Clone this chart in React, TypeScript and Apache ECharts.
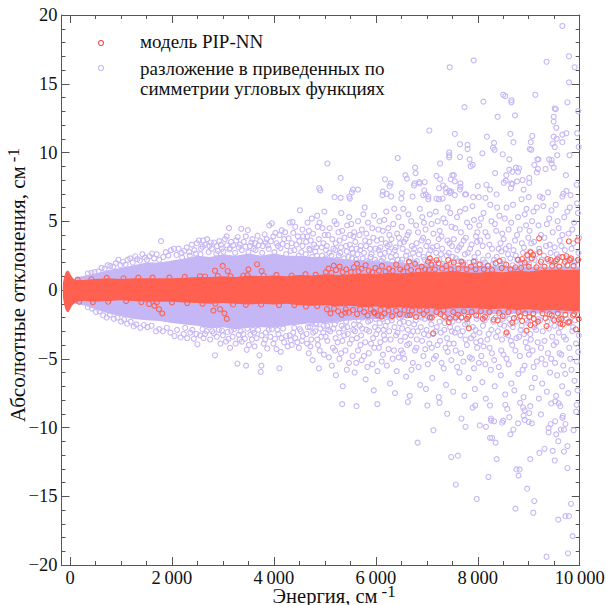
import React, { useEffect, useRef } from "react";
import * as echarts from "echarts";

const SERIES_A = "модель PIP-NN";
const SERIES_B = "разложение в приведенных по\nсимметрии угловых функциях";
const X_TITLE = "Энергия, см{sup|-1}";
const Y_TITLE = "Абсолютные отклонения, см{sup|-1}";
const xMajor = [0, 2000, 4000, 6000, 8000, 10000];
const xMinor = [500, 1000, 1500, 2500, 3000, 3500, 4500, 5000, 5500, 6500, 7000, 7500, 8500, 9000, 9500];

// dense, saturated core of each cloud: envelope
const redCoreE = [-140,-120,-90,-60,-30,0,30,60,100,140,250,500,750,1000,1250,1500,1750,2000,2250,2500,2750,3000,3250,3500,3750,4000,4250,4500,4750,5000,5250,5500,5750,6000,6250,6500,6750,7000,7250,7500,7750,8000,8250,8500,8750,9000,9250,9500,9750,10000];
const redCoreUp = [0.5,0.9,1.25,1.4,1.4,1.2,1.0,0.85,0.75,0.72,0.72,0.8,0.85,0.8,0.85,0.85,0.85,0.85,0.9,0.95,0.95,1.0,0.95,1.05,1.0,1.05,1.0,1.1,1.05,1.15,1.1,1.15,1.2,1.15,1.25,1.2,1.3,1.35,1.3,1.4,1.3,1.25,1.35,1.3,1.4,1.35,1.45,1.5,1.45,1.5];
const redCoreDn = [-0.5,-1.0,-1.4,-1.6,-1.6,-1.4,-1.2,-1.05,-0.95,-0.85,-0.8,-0.85,-0.8,-0.75,-0.8,-0.85,-0.85,-0.85,-0.9,-0.95,-1.0,-0.95,-1.0,-1.05,-1.0,-1.05,-1.0,-1.1,-1.15,-1.1,-1.2,-1.15,-1.25,-1.2,-1.3,-1.25,-1.35,-1.3,-1.4,-1.35,-1.3,-1.35,-1.4,-1.35,-1.45,-1.4,-1.5,-1.45,-1.5,-1.55];
const lilacCoreE = [100,300,500,750,1000,1250,1500,1750,2000,2250,2500,2750,3000,3250,3500,3750,4000,4250,4500,4750,5000,5500,6000,6500,7000,7500,8000,9000,10000];
const lilacCoreUp = [0.9,1.05,1.2,1.45,1.6,1.8,2.0,2.0,2.15,2.3,2.5,2.4,2.6,2.5,2.65,2.5,2.65,2.5,2.5,2.4,2.4,2.2,2.1,2.0,1.85,1.8,1.75,1.7,1.7];
const lilacCoreDn = [-1,-1.15,-1.4,-1.7,-1.9,-2.1,-2.2,-2.25,-2.4,-2.5,-2.6,-2.8,-2.7,-2.85,-2.75,-2.7,-2.75,-2.6,-2.5,-2.4,-2.4,-2.2,-2.1,-2.0,-1.85,-1.8,-1.75,-1.7,-1.7];

// individual rings, as energy, deviation, energy, deviation ...
const lilacTop = [9660,19.2,9790,17.0,9900,16.2,9350,16.6,7920,16.7,7450,16.2,9790,15.1,8500,14.2,8540,14.1,8660,13.8,8660,13.65,9130,14.2,8110,13.7,7740,13.3,9760,13.65,9510,13.2,9530,13.15,9970,13.0,8730,12.7,8390,12.6,9490,12.6,9490,12.25,9540,11.8,7050,11.6,7550,11.35,8640,11.35,9070,11.2,9740,11.4,9660,11.3,8180,11.15,9490,11.15,9550,11.0,9660,10.75,9950,11.4,9980,10.4,8320,10.7,8300,10.35,8330,10.2,8700,10.75,9040,10.75,9020,10.25,9050,10.2,9470,10.65,9510,10.4,7650,10.6,7800,10.55,7800,10.25,7440,10.0,7440,9.8,7440,9.65,7650,9.67,8090,9.94,8490,9.87,6430,9.6,7840,9.5,8620,9.5,9560,9.8,9800,9.8,9400,9.5,9450,9.45,9170,9.5,9190,9.5,7260,9.2,5050,9.2,7900,9.1,7860,9.0,9110,9.1,9450,9.2,9490,8.9,9330,8.8,9180,8.8,9160,8.55,6770,8.9,8620,8.75,8680,8.6,8750,8.9,8810,8.85,8790,8.6,8340,8.5,6780,8.5,6580,8.35,6610,8.1,9730,8.35,5310,8.15,7190,8.3,7260,8.05,7500,8.35,7530,8.35,7470,8.05,7550,7.9,6180,8.05,6290,7.75,6270,7.55,6850,7.85,6860,7.75,6760,7.75,6750,7.6,6960,7.85,8560,8.35,8550,7.95,8510,7.8,8880,8.0,8770,7.9,9010,8.15,9010,7.8,7660,7.75,7660,7.5,7650,7.3,8170,7.65,8000,7.55,8240,7.3,8660,7.75,8680,7.7,8650,7.4,9940,7.65,8900,7.3,4890,7.4,4910,7.25,5550,7.3,5650,7.3,5530,7.1,7320,7.6,7240,7.4,7370,7.4,7440,7.2,7480,7.15,7380,7.1,7460,7.05,6950,7.25,6140,7.15,6130,6.9,6210,7.0,6300,6.8,6510,7.05,6720,6.8,6930,6.9,6980,6.95,7030,6.8,7750,6.95,7770,6.95,7550,6.9,7910,6.75,8020,6.75,8150,6.7,8370,6.95,9380,7.1,9220,6.8,9270,6.7,9680,7.0,9740,7.2,9660,6.8,9820,6.9,5190,6.75,5310,6.7,5480,6.8,5490,6.65,7190,6.65,7240,6.6,7310,6.65,7030,6.6,9000,6.75,8860,6.6,6500,6.65];
const lilacBottom = [5340,-8.3,5620,-8.45,6030,-8.3,6630,-8.15,7010,-8.4,7250,-8.2,7400,-9.0,7680,-9.35,7760,-9.95,7130,-10.2,6820,-11.1,7480,-12.15,7610,-12.05,7570,-14.15,8210,-13.6,7980,-15.2,8370,-12.3,8350,-11.1,8240,-10.75,8280,-10.75,8040,-9.85,8160,-9.95,7900,-8.55,7950,-8.4,8240,-8.4,8260,-9.35,8260,-9.5,8320,-9.55,8500,-9.5,8480,-9.65,8620,-9.25,8540,-8.35,8580,-8.65,8790,-9.7,8640,-10.5,8700,-10.15,8920,-9.45,8900,-9.15,8890,-8.55,8920,-8.75,8830,-8.2,9010,-8.95,9000,-9.6,9060,-9.7,9240,-9.05,9030,-8.45,8760,-13.05,8820,-13.05,8800,-13.5,9030,-12.3,8970,-14.45,9110,-15.35,8740,-15.9,9090,-16.2,9210,-11.85,9310,-11.55,9470,-11.7,9510,-12.4,9690,-11.75,9760,-11.35,9580,-11.0,9540,-10.5,9390,-10.05,9390,-10.35,9430,-9.75,9520,-9.55,9720,-9.75,9630,-10.15,9690,-10.15,9880,-10.2,9670,-9.15,9660,-9.3,9760,-12.95,9830,-15.55,9720,-16.45,9790,-16.45,9580,-16.7,9860,-17.9,9350,-19.4,9770,-19.15,9940,-8.35,9930,-8.85,9440,-8.25,9590,-8.25,9620,-8.45,9520,-8.1];
const lilacLeftUp = [350,1.2,420,1.25,480,1.3,560,1.35,620,1.6,680,1.55,740,1.8,790,1.75,850,1.7,900,1.95,950,2.2,990,1.8,1040,2.05,1090,1.85,1130,2.2,1180,2.3,1230,2.0,1280,2.45,1320,2.25,1370,2.15,1420,2.6,1470,2.35,1510,2.2,1560,2.45,1610,2.65,1650,2.3,1700,2.6,1750,2.2,1786,3.55,1830,2.4,1880,2.75,1930,2.5,1980,2.9,2040,3.0,2090,2.55,2130,3.0,2190,2.7,2240,2.85,2290,3.1,2340,2.75,2390,3.3,2440,2.9,2490,3.4,2530,3.6,2570,3.0,2610,3.6,2650,3.3,2690,3.7,2730,3.2,2780,3.0,2830,3.45,2880,3.2,2930,3.55,2980,3.0,3040,3.7,3075,3.9,3120,4.5,3160,3.5,3200,3.25,3260,3.6,3310,3.1,3360,4.45,3410,3.5,3450,3.9,3490,4.35,3530,3.2,3580,3.7,3630,3.4,3680,3.95,3730,3.55,3780,3.2,3820,4.05,3860,3.7,3910,4.7,3960,4.85,3990,3.9,4050,3.4,4110,4.0,4154,4.35,4200,3.7,4260,3.2,4310,4.9,4364,4.95,4420,4.6,4470,3.9,4510,5.8,4560,4.4,2560,2.6,2720,2.75,2870,2.65,3010,2.8,3130,2.95,3240,2.7,3370,2.9,3500,2.75,3640,2.9,3770,2.7,3900,3.0,4010,2.75,4130,3.05,4240,2.6,4350,3.4,4400,2.9,4490,2.5,4560,3.2,
3080,3.25,3140,3.05,3290,3.85,3330,3.3,3440,3.15,3560,3.45,3600,3.0,3700,3.25,3840,3.45,3880,3.25,3940,3.55,4030,4.15,4080,3.2,4170,3.35,4220,4.2,4290,3.75,4330,2.85,4380,4.15,4440,3.3,4500,3.55,4540,2.75,4570,3.9,2200,2.35,2350,2.5,2470,2.65,2600,3.15,2760,3.45,2900,2.85,2960,3.3];
const lilacLeftDn = [350,-1.25,430,-1.35,510,-1.6,580,-1.55,650,-1.85,720,-2.0,780,-1.8,860,-2.1,930,-2.0,1000,-2.3,1060,-2.15,1120,-2.45,1190,-2.3,1250,-2.65,1300,-2.5,1380,-2.75,1450,-2.55,1520,-2.7,1600,-2.6,1688,-3.0,1750,-2.85,1820,-3.0,1900,-2.75,1970,-3.1,2050,-3.35,2100,-2.9,2170,-3.45,2230,-3.2,2300,-3.5,2360,-3.1,2430,-3.55,2499,-3.95,2550,-3.3,2620,-3.5,2680,-3.0,2750,-3.6,2845,-4.75,2880,-3.4,2950,-3.9,3000,-3.3,3060,-3.75,3140,-4.2,3190,-3.4,3250,-3.9,3284,-5.35,3330,-3.6,3400,-3.2,3454,-5.5,3467,-4.35,3510,-4.0,3570,-3.6,3620,-4.1,3716,-4.75,3742,-5.95,3755,-5.5,3800,-3.9,3870,-4.25,3930,-3.4,3990,-3.9,4050,-4.3,4108,-5.7,4134,-4.5,4200,-3.8,4270,-4.1,4350,-4.0,4420,-3.5,4490,-4.2,4550,-3.7,2600,-2.85,2790,-3.0,2920,-2.9,3090,-3.05,3220,-2.85,3350,-3.0,3480,-2.8,3610,-3.1,3690,-2.9,3840,-3.1,3960,-2.85,4090,-3.2,4180,-2.8,4310,-3.3,4400,-2.75,4530,-3.0,
3110,-3.55,3160,-2.95,3310,-3.25,3370,-3.75,3430,-3.55,3540,-3.25,3590,-2.9,3660,-3.5,3760,-3.3,3830,-3.6,3900,-2.9,4020,-3.55,4070,-2.9,4150,-3.5,4240,-3.35,4330,-3.65,4380,-3.1,4460,-3.8,4510,-2.85,4570,-3.35,2260,-2.75,2400,-2.9,2480,-3.2,2650,-3.2,2820,-3.15,2980,-2.95];
const lilacMidUp = [
4610,1.7,4625,2.6,4632,3.5,4670,2.1,4688,4.3,4695,3.0,4730,1.9,4745,5.2,4752,2.4,4790,3.3,4805,1.6,4812,2.8,4860,4.6,4875,2.2,4882,3.7,4905,1.8,4938,3.1,4945,2.5,4990,5.7,4998,4.0,4615,2.0,4655,3.9,4710,2.9,4722,3.6,4775,2.0,4830,3.1,4845,2.5,4895,4.9,4925,2.1,4965,1.7,4972,3.4,4660,4.9,4768,4.1,4850,5.4,4955,4.5,
5012,2.3,5030,1.8,5038,3.2,5085,2.7,5092,4.5,5110,1.6,5145,3.7,5153,2.1,5190,5.0,5205,2.9,5212,3.4,5255,1.9,5266,4.2,5272,2.5,5315,3.1,5322,5.6,5350,1.7,5378,2.3,5386,3.8,5430,2.8,5438,4.7,5446,1.9,5490,3.3,5020,2.9,5062,4.0,5075,2.0,5128,2.5,5170,3.0,5184,1.8,5228,4.8,5240,2.2,5290,3.6,5305,2.7,5340,4.3,5402,2.0,5415,3.2,5462,2.4,5478,5.3,5498,4.0,
5510,1.8,5528,3.0,5535,2.3,5575,4.2,5590,1.7,5598,3.5,5640,2.6,5652,5.0,5660,2.0,5705,3.2,5716,1.8,5725,4.4,5768,2.7,5782,6.0,5790,3.6,5825,2.1,5838,1.7,5846,4.9,5890,3.0,5898,2.4,5950,3.8,5958,1.8,5966,5.4,5518,4.8,5550,2.7,5562,3.9,5612,2.2,5625,3.0,5680,4.0,5692,2.9,5744,2.3,5755,5.5,5808,3.2,5814,4.1,5866,2.0,5875,3.5,5915,2.6,5930,4.5,5982,2.2,5994,3.0,
6015,2.0,6022,3.6,6035,1.7,6072,5.0,6086,2.6,6092,3.1,6125,1.8,6138,4.3,6146,2.3,6196,3.4,6204,5.7,6215,1.9,6258,2.8,6266,4.0,6272,3.3,6322,2.1,6334,1.7,6342,4.8,6390,3.1,6396,2.5,6445,5.3,6452,3.8,6464,1.8,6050,4.4,6056,2.9,6108,3.7,6112,2.1,6165,5.1,6178,2.7,6230,3.2,6245,4.5,6295,2.4,6308,3.7,6362,5.9,6374,2.9,6418,4.1,6430,2.2,6478,3.4,6490,2.0,
6508,4.6,6518,2.2,6525,3.0,6570,1.7,6584,3.7,6592,2.5,6640,5.5,6648,4.2,6656,2.0,6708,3.2,6716,1.8,6730,2.7,6790,4.7,6798,3.4,6806,2.1,6862,5.9,6870,2.9,6884,1.7,6928,3.8,6936,2.4,6944,4.9,6990,3.2,6998,1.9,6540,5.9,6552,3.5,6610,2.8,6622,4.0,6680,2.3,6694,5.0,6750,3.0,6762,2.0,6828,4.2,6844,2.6,6900,3.6,6912,5.3,6960,2.2,6975,4.4,
7014,1.8,7028,3.5,7036,2.6,7094,4.8,7106,2.1,7112,3.1,7168,1.7,7176,5.7,7184,2.7,7232,3.7,7246,2.2,7254,4.3,7302,3.0,7314,1.9,7326,5.2,7390,2.5,7404,3.6,7412,6.0,7474,2.0,7486,4.6,7494,3.2,7060,5.5,7072,2.9,7130,4.1,7144,2.0,7200,3.2,7214,5.0,7276,2.6,7288,3.9,7350,1.8,7366,4.9,7430,2.7,7446,3.4,7462,5.6,
7506,2.4,7522,1.8,7530,3.7,7592,5.3,7600,2.9,7610,2.1,7668,4.2,7676,3.3,7684,1.7,7748,2.6,7758,5.9,7766,3.8,7832,2.0,7842,4.6,7850,3.0,7918,1.8,7926,5.1,7936,2.4,7985,3.5,7994,4.2,7560,4.5,7572,2.3,7636,3.1,7650,5.7,7712,2.0,7724,3.6,7790,4.9,7804,2.7,7880,3.3,7896,6.1,7950,2.1,7966,3.9,
8006,2.7,8018,1.9,8030,4.7,8096,3.2,8104,2.2,8114,5.6,8186,1.8,8196,3.9,8204,2.5,8270,5.0,8280,3.0,8292,1.9,8362,4.3,8372,2.4,8380,6.0,8446,3.4,8456,1.8,8464,2.8,8050,3.6,8064,5.2,8140,2.0,8150,4.2,8230,3.3,8246,6.2,8320,2.2,8336,4.8,8410,3.0,8424,5.4,8480,4.1,8494,2.2,
8508,3.7,8516,1.9,8530,5.2,8592,2.6,8604,4.4,8612,3.2,8684,1.8,8692,6.2,8700,2.9,8770,4.0,8778,2.2,8790,5.3,8866,3.4,8876,1.9,8884,2.7,8948,4.7,8956,5.9,8966,2.1,8550,3.0,8566,6.0,8640,2.3,8656,4.9,8730,3.6,8746,2.5,8824,4.4,8838,2.0,8905,3.1,8922,5.5,8980,2.5,8992,3.8,
9006,1.9,9016,4.3,9028,2.8,9094,5.7,9104,3.5,9116,2.2,9182,1.8,9192,4.7,9204,3.0,9286,6.1,9296,2.5,9308,3.8,9390,2.1,9402,5.2,9412,3.3,9470,4.2,9484,2.0,9050,3.4,9066,5.0,9146,2.6,9160,6.0,9240,4.0,9256,2.2,9340,3.2,9356,4.8,9428,2.7,9446,5.8,
9508,3.1,9518,1.9,9530,6.2,9588,4.5,9598,2.4,9610,3.6,9686,1.9,9696,5.3,9708,2.9,9782,4.1,9794,2.2,9806,6.0,9878,3.4,9890,4.9,9900,2.0,9966,5.6,9976,2.7,9986,3.8,9550,2.6,9566,5.0,9642,3.2,9660,4.0,9742,2.3,9758,5.7,9840,3.0,9856,4.4,9930,2.1,9948,6.3];
const lilacMidDn = [
4605,-2.2,4620,-1.7,4640,-3.2,4668,-2.7,4684,-4.6,4692,-1.9,4735,-3.6,4742,-2.3,4758,-5.1,4796,-1.8,4810,-3.0,4818,-2.5,4866,-4.0,4878,-1.7,4884,-5.7,4912,-2.8,4930,-3.4,4942,-2.1,4982,-4.7,4994,-1.8,4650,-3.9,4708,-2.7,4716,-4.1,4770,-3.1,4782,-1.9,4836,-2.4,4852,-3.6,4900,-4.4,4920,-2.0,4968,-3.1,4976,-2.6,
5015,-3.4,5028,-1.8,5044,-2.6,5080,-4.9,5096,-2.0,5105,-3.0,5150,-1.7,5158,-4.2,5168,-2.8,5210,-3.5,5218,-6.2,5234,-2.2,5262,-1.8,5278,-3.1,5286,-5.0,5330,-2.6,5344,-3.7,5352,-7.0,5392,-1.8,5404,-4.4,5418,-2.3,5450,-3.2,5466,-1.9,5474,-5.3,5050,-3.7,5068,-2.9,5120,-2.2,5136,-5.5,5194,-2.5,5200,-4.4,5250,-3.8,5300,-2.1,5318,-4.6,5370,-2.8,5382,-3.3,5432,-5.8,5440,-2.7,5488,-3.9,
5508,-2.0,5516,-1.7,5530,-3.6,5570,-2.5,5584,-6.0,5592,-3.0,5640,-1.8,5650,-4.4,5664,-2.2,5712,-3.3,5722,-5.1,5730,-2.8,5780,-1.8,5792,-3.8,5800,-6.5,5850,-2.3,5862,-4.6,5870,-3.0,5925,-1.9,5934,-5.4,5946,-3.5,5960,-7.3,5985,-2.7,5545,-4.8,5556,-2.9,5615,-5.3,5628,-3.5,5685,-2.6,5698,-4.0,5748,-2.0,5766,-4.8,5820,-2.9,5835,-5.6,5890,-2.2,5905,-3.9,5972,-4.2,5996,-2.1,
6010,-3.2,6018,-1.8,6032,-5.9,6075,-2.4,6088,-3.8,6096,-1.9,6140,-4.7,6150,-2.9,6158,-3.3,6205,-1.8,6218,-5.5,6228,-2.3,6280,-6.8,6290,-3.6,6298,-2.0,6355,-4.4,6366,-2.7,6376,-7.5,6425,-3.1,6436,-1.8,6448,-4.9,6470,-2.4,6486,-3.7,6045,-2.9,6060,-4.2,6115,-5.2,6128,-2.1,6180,-3.6,6192,-2.6,6250,-4.3,6262,-3.0,6315,-2.2,6330,-5.0,6395,-3.3,6410,-5.9,6460,-2.0,6495,-4.4,
6505,-1.9,6516,-2.8,6528,-4.6,6575,-3.4,6586,-1.8,6594,-6.3,6645,-2.4,6654,-3.9,6664,-7.7,6715,-1.8,6726,-5.3,6734,-3.0,6785,-2.2,6796,-4.2,6804,-3.6,6858,-1.9,6870,-6.9,6880,-2.7,6935,-4.8,6946,-3.2,6955,-2.1,6984,-7.2,6545,-2.3,6558,-5.0,6615,-4.0,6628,-2.9,6688,-3.3,6700,-5.8,6752,-2.5,6768,-4.4,6822,-3.0,6838,-5.6,6895,-2.0,6908,-3.7,6970,-4.3,6996,-2.9,
7008,-1.9,7020,-5.4,7032,-3.3,7088,-2.5,7098,-4.2,7106,-6.4,7160,-1.8,7172,-3.0,7180,-4.8,7236,-7.8,7250,-2.3,7260,-3.7,7320,-1.9,7332,-5.7,7344,-2.9,7378,-6.9,7398,-3.5,7410,-4.5,7470,-2.1,7482,-5.1,7492,-3.0,7050,-3.9,7066,-2.1,7124,-3.2,7140,-5.0,7196,-2.7,7210,-4.0,7275,-3.1,7290,-5.3,7352,-2.4,7366,-4.2,7425,-2.0,7440,-3.9,7458,-2.7,
7504,-2.3,7518,-7.4,7528,-3.9,7585,-1.9,7596,-5.6,7606,-2.8,7660,-3.3,7672,-4.6,7682,-2.0,7738,-7.7,7750,-2.5,7760,-3.6,7820,-6.4,7830,-1.9,7844,-4.9,7905,-2.7,7918,-3.3,7926,-5.7,7942,-7.2,7976,-2.1,7990,-4.2,7550,-3.1,7566,-4.4,7625,-2.2,7640,-6.0,7705,-3.0,7718,-5.2,7785,-4.0,7798,-2.4,7868,-3.5,7884,-5.0,7955,-2.9,7968,-3.8,
8010,-1.9,8022,-5.3,8034,-3.1,8090,-6.7,8102,-2.6,8112,-4.1,8158,-7.9,8176,-2.0,8188,-3.6,8256,-5.8,8268,-2.9,8278,-4.6,8334,-7.0,8350,-2.0,8362,-3.4,8440,-2.5,8452,-6.2,8462,-4.4,8056,-3.7,8070,-4.8,8135,-2.2,8148,-5.4,8215,-3.2,8232,-4.2,8304,-2.3,8320,-5.1,8395,-3.0,8412,-5.6,8476,-3.6,8490,-2.1,
8504,-4.7,8518,-2.6,8528,-1.9,8538,-7.6,8596,-3.3,8606,-5.4,8618,-2.1,8658,-6.8,8676,-4.0,8686,-2.7,8718,-7.3,8758,-3.5,8770,-2.0,8796,-6.1,8826,-4.8,8838,-2.9,8898,-7.8,8910,-3.2,8920,-5.5,8962,-2.2,8974,-4.2,8550,-3.2,8566,-5.0,8636,-2.5,8648,-3.7,8738,-4.4,8746,-2.3,8810,-3.4,8860,-2.6,8880,-5.8,8940,-3.8,8990,-2.4,
9004,-4.7,9016,-2.0,9028,-3.2,9058,-7.1,9096,-5.6,9110,-2.7,9120,-6.4,9176,-3.8,9190,-2.1,9198,-7.9,9254,-5.0,9264,-6.8,9276,-3.0,9356,-7.4,9368,-2.3,9378,-4.6,9418,-6.0,9460,-3.4,9474,-2.1,9040,-3.6,9076,-4.4,9145,-2.9,9160,-5.2,9226,-2.2,9240,-4.2,9310,-3.7,9326,-5.4,9396,-2.8,9440,-5.0,9490,-4.0,
9506,-2.6,9516,-5.3,9538,-7.7,9558,-6.2,9590,-3.1,9604,-4.6,9612,-2.0,9656,-7.0,9676,-5.5,9688,-3.4,9716,-6.1,9774,-7.5,9786,-2.4,9796,-4.2,9838,-5.8,9852,-3.0,9898,-6.6,9910,-2.2,9958,-7.3,9970,-4.5,9982,-3.3,9540,-3.8,9628,-2.7,9640,-4.7,9730,-3.6,9748,-2.1,9815,-5.0,9870,-2.7,9926,-3.9,9944,-5.2];
const redOutliers = [2845,1.4,2996,1.75,3094,1.38,3500,1.5,3670,1.87,3760,1.38,1550,-1.02,1655,-1.14,1745,-1.4,1810,-1.7,2813,-1.5,2944,-1.4,3030,-1.7,3075,-2.1,9205,3.76,9787,3.54,9957,3.6,9040,2.74,9211,2.76,8870,2.25,8970,2.55,9085,2.55,9740,2.47,6650,2.06,7060,2.3,7190,2.18,7025,2.06,7420,2.18,7680,2.06,7920,2.06,8430,2.1,5630,1.9,5175,1.77,9430,2.18,9560,2.23,9710,2.05,9810,2.18,7125,-3.15,7430,-2.33,7825,-2.79,8565,-3.08,8956,-2.96,9350,-2.62,9925,-2.86,8680,-2.37,9100,-2.1,9120,-2.45,9035,-2.55,9620,-2.45,9670,-2.5,9590,-2.15,9775,-2.35,6110,-1.94,7060,-1.99,5400,-1.65,5980,-1.7,6670,-1.82,7350,-1.95,7570,-2.0,7680,-2.0,7810,-1.95,8100,-2.1,8390,-2.2,8830,-1.9,9450,-1.85,9870,-1.85];
const redEdge = [150,0.75,420,0.78,720,0.88,1050,0.85,1340,0.9,1620,0.9,1950,0.9,2250,0.95,2550,1.0,2650,0.98,2900,1.02,3150,1.0,3400,1.05,3480,1.08,3800,1.05,4050,1.1,4350,1.05,4620,1.15,4820,1.12,
180,-0.85,450,-0.88,750,-0.85,1100,-0.8,1400,-0.88,1700,-0.9,2000,-0.9,2300,-0.95,2600,-1.0,2850,-1.0,3200,-1.05,3450,-1.08,3750,-1.05,4100,-1.1,4400,-1.1,4630,-1.2,4850,-1.18,
5020,1.3,5070,1.55,5130,1.25,5220,1.45,5290,1.7,5350,1.3,5420,1.5,5510,1.3,5570,1.65,5660,1.35,5720,1.55,5800,1.8,5860,1.4,5930,1.3,5990,1.6,6060,1.4,6120,1.75,6190,1.35,6260,1.55,6330,1.4,6400,1.85,6480,1.5,6540,1.35,6610,1.65,6690,1.45,6770,1.9,6830,1.4,6900,1.7,6970,1.5,7040,1.45,7090,1.85,7160,1.5,7230,1.95,7300,1.55,7380,1.75,7470,1.5,7530,2.0,7620,1.55,7710,1.85,7780,1.5,7870,1.7,7960,1.5,8040,1.85,8120,1.5,8200,1.75,8280,1.45,8350,1.95,8470,1.6,8560,1.85,8640,1.5,8740,1.65,8790,2.2,8850,1.6,8920,2.0,9000,1.7,9060,2.3,9150,1.65,9240,2.05,9310,1.7,9370,2.25,9460,1.75,9530,2.1,9600,1.7,9660,2.4,9760,1.8,9830,2.3,9880,1.75,9970,2.2,
5040,-1.4,5110,-1.7,5180,-1.35,5260,-1.55,5330,-1.8,5410,-1.4,5470,-1.65,5550,-1.45,5630,-1.75,5690,-1.4,5770,-1.6,5840,-1.85,5900,-1.4,5960,-1.6,6040,-1.85,6090,-1.45,6170,-1.7,6250,-1.5,6320,-1.9,6400,-1.5,6470,-1.75,6560,-1.45,6620,-1.85,6710,-1.5,6790,-1.95,6860,-1.5,6940,-1.75,7000,-1.5,7100,-2.0,7190,-1.6,7270,-1.75,7330,-1.5,7450,-2.05,7520,-1.6,7610,-1.8,7730,-1.55,7790,-2.1,7880,-1.6,7970,-1.85,8060,-1.55,8140,-1.95,8230,-1.6,8310,-2.15,8420,-1.65,8490,-1.9,8600,-1.6,8710,-2.05,8800,-1.6,8870,-2.25,8930,-1.7,9010,-1.95,9090,-1.7,9180,-2.3,9270,-1.7,9330,-2.05,9410,-1.75,9500,-2.2,9570,-1.7,9640,-2.1,9720,-1.8,9800,-2.3,9890,-1.75,9980,-2.1];

const pairs = (flat: number[]) => {
  const out: number[][] = [];
  for (let i = 0; i < flat.length; i += 2) out.push([flat[i], flat[i + 1]]);
  return out;
};
const zip = (xs: number[], ys: number[]) => xs.map((x, i) => [x, ys[i]]);

const RED = "#FF6050";
const LILAC = "#C5B7F5";
const AXIS = "#555";
const FONT = "Liberation Serif";
const SUP = { sup: { fontFamily: FONT, fontSize: 17, color: "#111", verticalAlign: "top", padding: [0, 0, 9, 4] } };

const band = (name: string, data: number[][], color: string, z: number, origin: number) => ({
  type: "line",
  name,
  data,
  z,
  symbol: "none",
  silent: true,
  clip: true,
  lineStyle: { width: 0 },
  areaStyle: { color, opacity: 1, origin },
  tooltip: { show: false },
});
const rings = (name: string, data: number[][], color: string, size: number, z: number) => ({
  type: "scatter",
  name,
  data,
  z,
  symbol: "circle",
  symbolSize: size,
  large: false,
  progressive: 0,
  silent: true,
  clip: false,
  itemStyle: { color: "rgba(255,255,255,0)", borderColor: color, borderWidth: 1.1, opacity: 1 },
});

const lilacAll = [lilacTop, lilacBottom, lilacLeftUp, lilacLeftDn, lilacMidUp, lilacMidDn].flatMap(pairs);
const redAll = [redOutliers, redEdge].flatMap(pairs);

const xBase = { type: "value", min: -167, max: 10000, splitLine: { show: false } };
const xTicks = (position: string, values: number[], length: number, labels: boolean) => ({
  ...xBase,
  position,
  axisLine: { show: true, onZero: false, lineStyle: { color: AXIS, width: 1 } },
  axisTick: { show: true, inside: true, length, customValues: values, lineStyle: { color: AXIS, width: 1 } },
  axisLabel: labels
    ? {
        show: true,
        customValues: xMajor,
        margin: 3,
        fontFamily: FONT,
        fontSize: 18.5,
        color: "#111",
        hideOverlap: false,
        formatter: (v: number) => String(v).replace(/(\d)(\d{3})$/, "$1\u2009$2"),
      }
    : { show: false },
});

export default function App() {
  const ref = useRef<HTMLDivElement>(null);
  useEffect(() => {
    const chart = echarts.init(ref.current!, undefined, { renderer: "svg" });
    chart.setOption({
      animation: false,
      backgroundColor: "#fff",
      grid: { left: 61.5, right: 26.3, top: 15, bottom: 40, containLabel: false, outerBoundsMode: "none" },
      xAxis: [
        {
          ...xTicks("bottom", xMajor, 8, true),
          name: X_TITLE,
          nameLocation: "middle",
          nameGap: 18,
          nameMoveOverlap: false,
          nameTextStyle: { fontFamily: FONT, fontSize: 20.5, color: "#111", rich: SUP, padding: [0, 0, 0, 27] },
        },
        xTicks("bottom", xMinor, 4, false),
        xTicks("top", xMajor, 8, false),
        xTicks("top", xMinor, 4, false),
      ],
      yAxis: [
        {
          type: "value",
          min: -20,
          max: 20,
          interval: 5,
          position: "left",
          name: Y_TITLE,
          nameLocation: "middle",
          nameGap: 31,
          nameMoveOverlap: false,
          nameTextStyle: { fontFamily: FONT, fontSize: 21, color: "#111", rich: SUP, padding: [0, 0, 0, 10] },
          splitLine: { show: false },
          axisLine: { show: true, onZero: false, lineStyle: { color: AXIS, width: 1 } },
          axisTick: { show: true, inside: true, length: 8, lineStyle: { color: AXIS, width: 1 } },
          minorTick: { show: true, splitNumber: 5, length: 4, lineStyle: { color: AXIS, width: 1 } },
          axisLabel: {
            margin: 4,
            fontFamily: FONT,
            fontSize: 18.5,
            color: "#111",
            formatter: (v: number) => String(v).replace("-", "\u2212"),
          },
        },
        {
          type: "value",
          min: -20,
          max: 20,
          interval: 5,
          position: "right",
          splitLine: { show: false },
          axisLine: { show: true, onZero: false, lineStyle: { color: AXIS, width: 1 } },
          axisTick: { show: true, inside: true, length: 8, lineStyle: { color: AXIS, width: 1 } },
          minorTick: { show: true, splitNumber: 5, length: 4, lineStyle: { color: AXIS, width: 1 } },
          axisLabel: { show: false },
        },
      ],
      series: [
        band(SERIES_B, zip(lilacCoreE, lilacCoreUp), LILAC, 1, -0.3),
        band(SERIES_B, zip(lilacCoreE, lilacCoreDn), LILAC, 1, 0.3),
        rings(SERIES_B, lilacAll, LILAC, 5, 2),
        band(SERIES_A, zip(redCoreE, redCoreUp), RED, 3, -0.3),
        band(SERIES_A, zip(redCoreE, redCoreDn), RED, 3, 0.3),
        rings(SERIES_A, redAll, RED, 5, 4),
      ],
      graphic: [
        { type: "circle", shape: { cx: 101, cy: 43, r: 2.5 }, style: { fill: "none", stroke: "#F2504A", lineWidth: 1.1 } },
        { type: "circle", shape: { cx: 101, cy: 68, r: 2.5 }, style: { fill: "none", stroke: LILAC, lineWidth: 1.1 } },
        { type: "text", x: 140, y: 41, style: { text: SERIES_A, fontFamily: FONT, fontSize: 19, fill: "#111", verticalAlign: "middle" } },
        { type: "text", x: 140, y: 78, style: { text: SERIES_B, fontFamily: FONT, fontSize: 19, lineHeight: 20, fill: "#111", verticalAlign: "middle" } },
      ],
    });
    return () => chart.dispose();
  }, []);
  return <div ref={ref} style={{ position: "fixed", left: 0, top: 0, width: 606, height: 605 }} />;
}
